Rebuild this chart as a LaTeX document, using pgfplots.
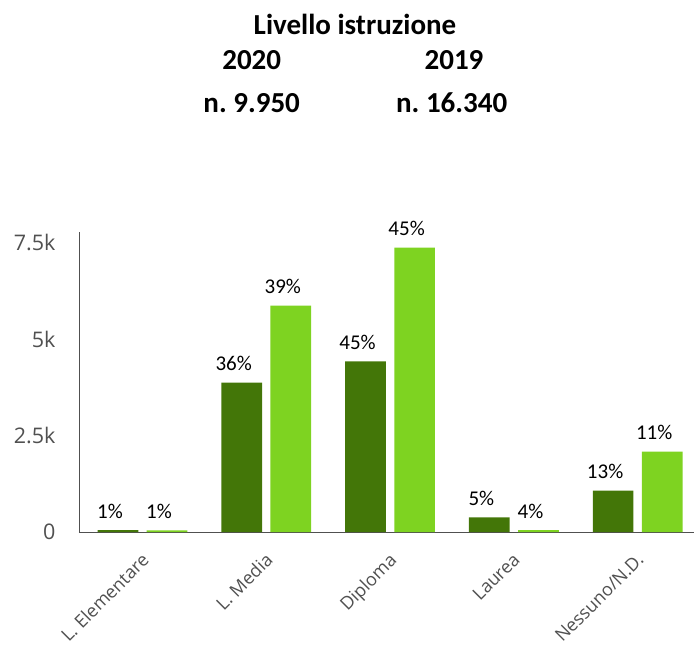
\documentclass[border=0pt]{standalone}
\usepackage{fontspec}
\setmainfont{Carlito}
\newfontfamily\ticksans{Open Sans}
\usepackage{pgfplots}
\usepackage{pgfplotstable}
\pgfplotsset{compat=1.18}

\definecolor{dark20}{RGB}{67,118,8}
\definecolor{light19}{RGB}{126,211,33}
\definecolor{axgray}{RGB}{80,80,80}

% x: category index, y: count, p: percent shown above the bar
\pgfplotstableread{
x y p
0 50 1
1 3868 36
2 4422 45
3 381 5
4 1070 13
}\anno
\pgfplotstableread{
x y p
0 40 1
1 5863 39
2 7365 45
3 50 4
4 2080 11
}\annoprev

\begin{document}
\begin{tikzpicture}
\useasboundingbox (-79pt,-119pt) rectangle (615pt,532pt);
\begin{axis}[
    scale only axis,
    width=615pt, height=300pt,
    ybar=8.4pt, bar width=40.7pt,
    xmin=-0.513, xmax=4.455,
    ymin=0, ymax=7772,
    axis x line*=bottom, axis y line*=left,
    axis line style={axgray, line width=0.9pt},
    major tick length=0pt,
    xtick={0,...,4},
    xticklabels={L. Elementare, L. Media, Diploma, Laurea, Nessuno/N.D.},
    ytick={0,2500,5000,7500},
    yticklabels={0,2.5k,5k,7.5k},
    tick label style={text=axgray},
    yticklabel style={font=\ticksans\fontsize{21.5}{24}\selectfont, xshift=-20pt},
    xticklabel style={font=\ticksans\fontsize{18}{21}\selectfont,
        rotate=45, anchor=north east, xshift=-12pt, yshift=-9pt},
    /pgf/number format/assume math mode=true,
    nodes near coords={\pgfmathprintnumber{\pgfplotspointmeta}\%},
    every node near coord/.append style={font=\fontsize{21}{24}\selectfont,
        text=black, anchor=base, yshift=12pt, xshift=-8pt},
    point meta=explicit,
    clip=false,
]
\addplot[fill=dark20, draw=none] table[x=x, y=y, meta=p] {\anno};
\addplot[fill=light19, draw=none] table[x=x, y=y, meta=p] {\annoprev};
\end{axis}
\begin{scope}[font=\bfseries\fontsize{29}{32}\selectfont]
\node[anchor=base] at (276pt,497pt) {Livello istruzione};
\node[anchor=base] at (172.7pt,462pt) {2020};
\node[anchor=base] at (375pt,462pt) {2019};
\node[anchor=base] at (172.7pt,419pt) {n.\ 9.950};
\node[anchor=base] at (372.7pt,419pt) {n.\ 16.340};
\end{scope}
\end{tikzpicture}
\end{document}
